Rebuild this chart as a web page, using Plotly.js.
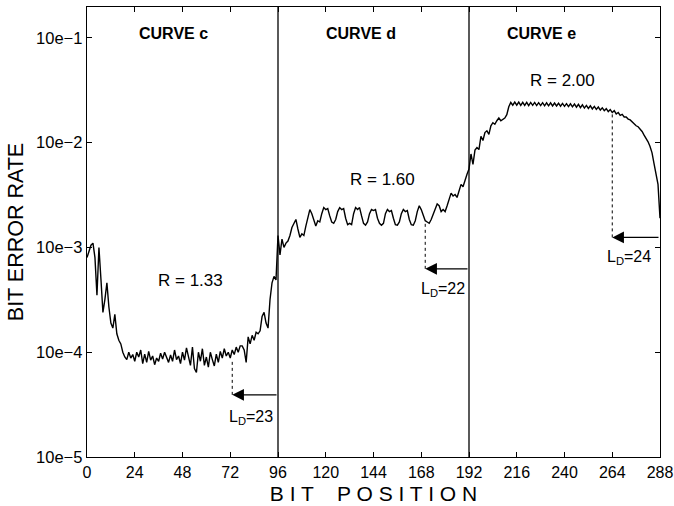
<!DOCTYPE html>
<html>
<head>
<meta charset="utf-8">
<script src="https://cdn.plot.ly/plotly-3.0.1.min.js"></script>
<style>html,body{margin:0;padding:0;background:#fff;}#chart{width:674px;height:506px;}</style>
</head>
<body>
<div id="chart"></div>
<script>
// Bit error rate per bit position (values in the axis-label units)
var berCurveC = [
  8.0e-4, 9.0e-4, 1.05e-3, 1.1e-3, 8.0e-4, 3.5e-4, 1.0e-3, 5.0e-4, 2.4e-4, 3.2e-4,
  4.6e-4, 2.7e-4, 1.9e-4, 1.7e-4, 2.3e-4, 1.5e-4, 1.3e-4, 1.2e-4, 1.0e-4, 9.0e-5,
  8.5e-5, 1.0e-4, 8.8e-5, 9.5e-5, 8.2e-5, 1.0e-4, 9.0e-5, 1.05e-4, 7.8e-5, 9.6e-5,
  8.0e-5, 1.02e-4, 8.4e-5, 9.2e-5, 7.6e-5, 8.8e-5, 8.2e-5, 9.8e-5, 8.6e-5, 1.0e-4,
  9.0e-5, 8.0e-5, 9.4e-5, 8.2e-5, 1.05e-4, 8.5e-5, 9.2e-5, 7.8e-5, 1.0e-4, 8.4e-5,
  1.1e-4, 8.8e-5, 7.5e-5, 1.12e-4, 7.0e-5, 6.4e-5, 1.0e-4, 8.2e-5, 1.08e-4, 7.5e-5,
  9.0e-5, 7.2e-5, 1.0e-4, 8.5e-5, 7.4e-5, 9.6e-5, 8.0e-5, 1.02e-4, 8.8e-5, 1.08e-4,
  9.2e-5, 1.0e-4, 8.8e-5, 1.05e-4, 9.5e-5, 1.12e-4, 1.0e-4, 1.15e-4, 1.15e-4, 1.05e-4,
  8.0e-5, 1.4e-4, 1.2e-4, 1.45e-4, 1.3e-4, 1.55e-4, 1.5e-4, 1.6e-4, 2.2e-4, 2.4e-4,
  1.9e-4, 1.7e-4, 3.2e-4, 4.6e-4, 5.3e-4, 4.9e-4
];
var berCurveD = [
  1.3e-3, 8.5e-4, 1.2e-3, 1.0e-3, 1.1e-3, 1.15e-3, 1.3e-3, 1.55e-3, 1.7e-3, 1.85e-3,
  1.5e-3, 1.25e-3, 1.35e-3, 1.3e-3, 1.6e-3, 2.0e-3, 2.3e-3, 2.1e-3, 1.8e-3, 1.6e-3,
  1.8e-3, 1.75e-3, 2.1e-3, 2.4e-3, 2.3e-3, 2.35e-3, 2.0e-3, 1.75e-3, 1.7e-3, 1.85e-3,
  2.2e-3, 2.4e-3, 2.3e-3, 2.35e-3, 1.9e-3, 1.65e-3, 1.7e-3, 1.65e-3, 2.1e-3, 2.4e-3,
  2.3e-3, 2.4e-3, 2.0e-3, 1.7e-3, 1.63e-3, 1.75e-3, 2.1e-3, 2.3e-3, 2.25e-3, 2.3e-3,
  1.9e-3, 1.7e-3, 1.63e-3, 1.7e-3, 2.1e-3, 2.3e-3, 2.2e-3, 2.25e-3, 1.9e-3, 1.65e-3,
  1.63e-3, 1.75e-3, 2.1e-3, 2.3e-3, 2.2e-3, 2.25e-3, 1.85e-3, 1.65e-3, 1.63e-3, 1.8e-3,
  2.2e-3, 2.5e-3, 2.3e-3, 2.0e-3, 1.8e-3, 1.75e-3, 1.7e-3, 1.85e-3, 2.1e-3, 2.4e-3,
  2.6e-3, 2.5e-3, 2.2e-3, 2.3e-3, 2.2e-3, 2.5e-3, 2.9e-3, 3.3e-3, 3.1e-3, 3.2e-3,
  3.0e-3, 3.5e-3, 4.0e-3, 3.8e-3, 4.5e-3, 5.0e-3
];
var berCurveE = [
  5.6e-3, 7.8e-3, 6.2e-3, 8.5e-3, 9.0e-3, 8.6e-3, 1.15e-2, 1.05e-2, 1.25e-2, 1.3e-2,
  1.2e-2, 1.45e-2, 1.55e-2, 1.5e-2, 1.62e-2, 1.72e-2, 1.62e-2, 1.68e-2, 1.72e-2, 1.85e-2,
  2.2e-2, 2.42e-2, 2.28e-2, 2.44e-2, 2.28e-2, 2.44e-2, 2.27e-2, 2.43e-2, 2.27e-2, 2.43e-2,
  2.26e-2, 2.42e-2, 2.27e-2, 2.42e-2, 2.26e-2, 2.41e-2, 2.26e-2, 2.41e-2, 2.25e-2, 2.4e-2,
  2.25e-2, 2.4e-2, 2.24e-2, 2.39e-2, 2.24e-2, 2.38e-2, 2.23e-2, 2.37e-2, 2.22e-2, 2.36e-2,
  2.21e-2, 2.35e-2, 2.2e-2, 2.34e-2, 2.18e-2, 2.32e-2, 2.16e-2, 2.3e-2, 2.14e-2, 2.27e-2,
  2.12e-2, 2.25e-2, 2.1e-2, 2.22e-2, 2.08e-2, 2.19e-2, 2.05e-2, 2.15e-2, 2.02e-2, 2.11e-2,
  1.98e-2, 2.07e-2, 1.94e-2, 2.02e-2, 1.88e-2, 1.94e-2, 1.82e-2, 1.86e-2, 1.76e-2, 1.76e-2,
  1.68e-2, 1.65e-2, 1.58e-2, 1.53e-2, 1.45e-2, 1.42e-2, 1.35e-2, 1.28e-2, 1.18e-2, 1.1e-2,
  1.02e-2, 9.2e-3, 8.0e-3, 6.3e-3, 5.2e-3, 4.0e-3, 1.9e-3
];
var xTicks = [0, 24, 48, 72, 96, 120, 144, 168, 192, 216, 240, 264, 288];
var yTickVals = [1e-5, 1e-4, 1e-3, 1e-2, 1e-1];
var yTickText = ["10e\u22125", "10e\u22124", "10e\u22123", "10e\u22122", "10e\u22121"];
var curveLabels = ["CURVE c", "CURVE d", "CURVE e"];
var rateLabels = ["R = 1.33", "R = 1.60", "R = 2.00"];
var decodingDelays = [23, 22, 24];
var segmentEnds = [96, 192, 288];

var ber = berCurveC.concat(berCurveD, berCurveE);
var bitPos = [];
for (var i = 0; i < ber.length; i++) bitPos.push(i);

var trace = {
  x: bitPos, y: ber, type: 'scatter', mode: 'lines',
  line: {color: '#000', width: 1.4}, hoverinfo: 'skip', showlegend: false
};

var FONT = 'Liberation Sans, Arial, Helvetica, sans-serif';
var curveLabelPos = [[43.5, -0.96], [137.6, -0.96], [228.3, -0.96]];
var rateLabelPos = [[52, -3.316], [148.7, -2.35], [238.9, -1.41]];
var arrowY = [-4.407, -3.204, -2.904];
var dotTop = [8.5e-5, 1.75e-3, 1.95e-2];
var ldLabelPos = [[82.3, -4.62], [178.7, -3.40], [272.6, -3.096]];

var annotations = [];
var shapes = [];
for (var k = 0; k < 3; k++) {
  annotations.push({x: curveLabelPos[k][0], y: curveLabelPos[k][1], xref: 'x', yref: 'y',
    text: '<b>' + curveLabels[k] + '</b>', showarrow: false,
    font: {family: FONT, size: 16, color: '#000'}});
  annotations.push({x: rateLabelPos[k][0], y: rateLabelPos[k][1], xref: 'x', yref: 'y',
    text: rateLabels[k], showarrow: false, font: {family: FONT, size: 17, color: '#000'}});
  var head = segmentEnds[k] - decodingDelays[k];
  annotations.push({x: head, y: arrowY[k], xref: 'x', yref: 'y',
    ax: segmentEnds[k], ay: arrowY[k], axref: 'x', ayref: 'y', text: '',
    showarrow: true, arrowhead: 2, arrowsize: 1.8, arrowwidth: 1.3, arrowcolor: '#000',
    standoff: 0, startstandoff: 0});
  annotations.push({x: ldLabelPos[k][0], y: ldLabelPos[k][1], xref: 'x', yref: 'y',
    text: 'L<sub>D</sub>=' + decodingDelays[k], showarrow: false,
    font: {family: FONT, size: 16, color: '#000'}});
  shapes.push({type: 'line', xref: 'x', yref: 'y', x0: head, x1: head,
    y0: Math.pow(10, arrowY[k]), y1: dotTop[k], line: {color: '#000', width: 1, dash: 'dot'}});
}
for (var s = 0; s < 2; s++) {
  shapes.push({type: 'line', xref: 'x', yref: 'paper', x0: segmentEnds[s], x1: segmentEnds[s],
    y0: 0, y1: 1, line: {color: '#000', width: 1.3}});
}

var layout = {
  width: 674, height: 506,
  margin: {l: 87, r: 14, t: 7, b: 49},
  paper_bgcolor: '#fff', plot_bgcolor: '#fff',
  font: {family: FONT, color: '#000'},
  xaxis: {
    range: [0, 288], tickvals: xTicks, ticks: 'inside', ticklen: 5, tickcolor: '#000',
    showline: true, linecolor: '#000', linewidth: 1.3, mirror: 'ticks', showgrid: false, zeroline: false,
    tickfont: {family: FONT, size: 16, color: '#000'},
    title: {text: 'B I T\u00a0\u00a0\u00a0 P O S I T I O N', font: {family: FONT, size: 21, color: '#000'}, standoff: 6}
  },
  yaxis: {
    type: 'log', range: [-5, -0.705], tickvals: yTickVals, ticktext: yTickText,
    ticks: 'inside', ticklen: 5, tickcolor: '#000',
    showline: true, linecolor: '#000', linewidth: 1.3, mirror: 'ticks', showgrid: false, zeroline: false,
    tickfont: {family: FONT, size: 16.5, color: '#000'},
    title: {text: 'BIT ERROR RATE', font: {family: FONT, size: 21.5, color: '#000'}, standoff: 6}
  },
  annotations: annotations,
  shapes: shapes
};

Plotly.newPlot('chart', [trace], layout, {staticPlot: true, displayModeBar: false});
</script>
</body>
</html>
